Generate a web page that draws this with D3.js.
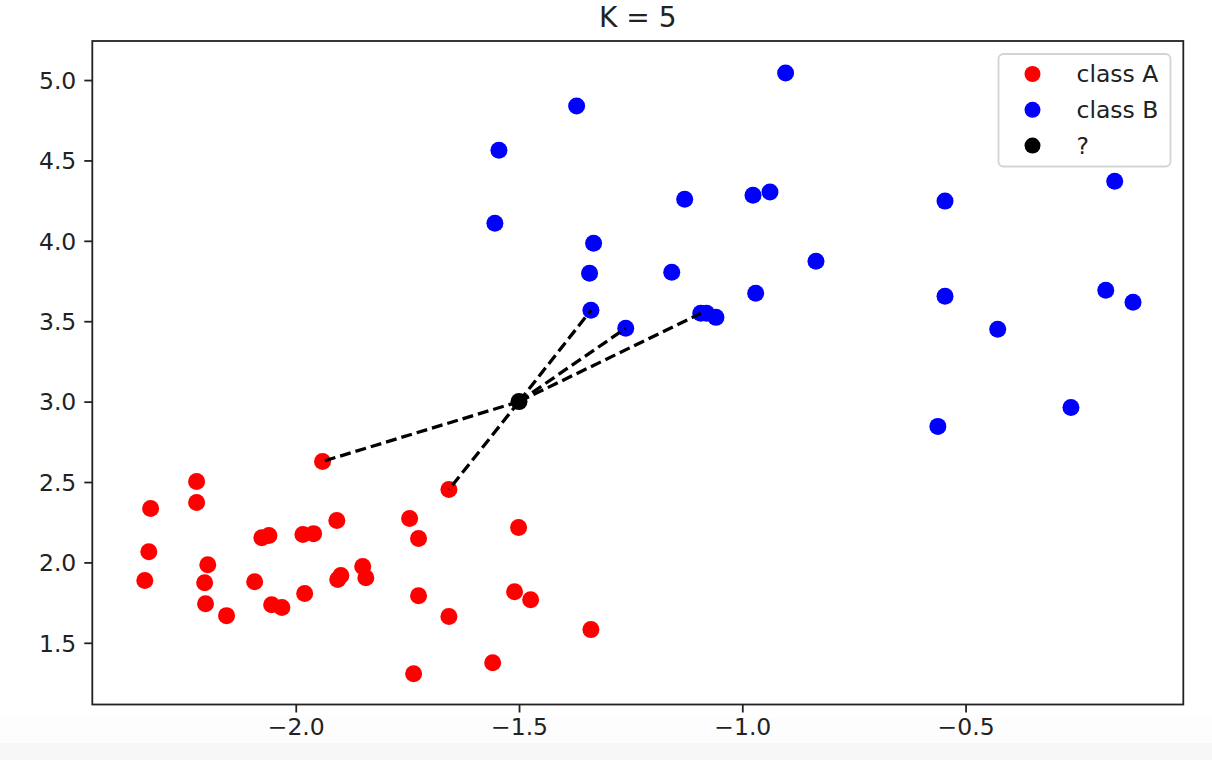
<!DOCTYPE html>
<html>
<head>
    <meta charset="utf-8">
    <script type="text/javascript" src="https://d3js.org/d3.v7.min.js"></script>
    <style>
    body {
        padding: 0;
        margin: 0;
        background: #fff;
    }
    svg text {
        font-family: "DejaVu Sans", sans-serif;
        fill: #222;
    }
    </style>
</head>
<body>
    <div id="viz"></div>
    <script type="text/javascript">

    // class A points (red)
    var classAx = [-2.338, -2.329, -2.325, -2.222, -2.222, -2.197, -2.204, -2.202, -2.155, -2.092,
                   -2.076, -2.060, -2.054, -2.031, -1.980, -1.984, -1.960, -1.908, -1.906, -1.899,
                   -1.850, -1.843, -1.940, -1.745, -1.725, -1.725, -1.736, -1.657, -1.657, -1.559,
                   -1.501, -1.510, -1.474, -1.339];
    var classAy = [1.887, 2.067, 2.335, 2.503, 2.372, 1.986, 1.874, 1.743, 1.669, 1.880,
                   2.154, 2.167, 1.737, 1.719, 1.806, 2.173, 2.179, 2.260, 1.893, 1.918,
                   1.974, 1.905, 2.628, 2.273, 2.148, 1.793, 1.308, 2.453, 1.663, 1.376,
                   2.217, 1.818, 1.768, 1.582];

    // class B points (blue)
    var classBx = [-1.554, -1.545, -1.371, -0.903, -1.333, -1.342, -1.339, -1.261, -1.129, -1.158,
                   -0.976, -0.938, -0.970, -0.835, -1.093, -1.080, -1.059, -0.546, -0.546, -0.562,
                   -0.428, -0.264, -0.186, -0.166, -0.125];
    var classBy = [4.110, 4.564, 4.838, 5.044, 3.985, 3.798, 3.568, 3.456, 4.259, 3.804,
                   4.284, 4.303, 3.674, 3.873, 3.549, 3.549, 3.524, 4.247, 3.655, 2.846,
                   3.450, 2.964, 3.692, 4.371, 3.618];

    // the unknown point and its 5 nearest neighbours
    var queryPoint = [-1.5, 3.0];
    var neighbourX = [-1.940, -1.657, -1.339, -1.261, -1.093];
    var neighbourY = [2.628, 2.453, 3.568, 3.456, 3.549];

    var xTicks = [-2.0, -1.5, -1.0, -0.5];
    var yTicks = [1.5, 2.0, 2.5, 3.0, 3.5, 4.0, 4.5, 5.0];
    var legendLabels = ['class A', 'class B', '?'];
    var legendColors = ['#ff0000', '#0000ff', '#000000'];

    var W = 1212, H = 760;
    var plotL = 92.3, plotR = 1183.3, plotT = 41, plotB = 704.5;

    var svg = d3.select('#viz')
      .append('svg')
      .attr('width', W)
      .attr('height', H);

    // faint grey strip at the very bottom of the screenshot
    svg.append('rect').attr('x', 0).attr('y', 718).attr('width', W).attr('height', 25).attr('fill', '#fdfdfd');
    svg.append('rect').attr('x', 0).attr('y', 743).attr('width', W).attr('height', 17).attr('fill', '#f7f7f7');

    var x = d3.scaleLinear().domain([-2.4556, -0.0124]).range([plotL, plotR]);
    var y = d3.scaleLinear().domain([1.1163, 5.2428]).range([plotB, plotT]);

    function fmt(v) { return d3.format('.1f')(v).replace('-', '\u2212'); }

    var xAxis = svg.append('g')
      .attr('transform', 'translate(0,' + plotB + ')')
      .call(d3.axisBottom(x).tickValues(xTicks).tickFormat(fmt).tickSizeOuter(0).tickSizeInner(8).tickPadding(6));
    var yAxis = svg.append('g')
      .attr('transform', 'translate(' + plotL + ',0)')
      .call(d3.axisLeft(y).tickValues(yTicks).tickFormat(fmt).tickSizeOuter(0).tickSizeInner(8).tickPadding(8));

    [xAxis, yAxis].forEach(function(g) {
      g.select('.domain').remove();
      g.selectAll('.tick line').attr('stroke', '#222').attr('stroke-width', 1.8);
      g.selectAll('.tick text').attr('font-size', 23.5).attr('fill', '#222')
        .style('font-family', '"DejaVu Sans", sans-serif');
    });
    yAxis.selectAll('.tick text').attr('dy', '0.35em');

    function pts(xs, ys) { return xs.map(function(v, i) { return {x: v, y: ys[i]}; }); }

    svg.append('g').selectAll('circle').data(pts(classAx, classAy))
      .enter().append('circle')
      .attr('cx', function(d) { return x(d.x); })
      .attr('cy', function(d) { return y(d.y); })
      .attr('r', 8.5)
      .attr('fill', '#ff0000');

    svg.append('g').selectAll('circle').data(pts(classBx, classBy))
      .enter().append('circle')
      .attr('cx', function(d) { return x(d.x); })
      .attr('cy', function(d) { return y(d.y); })
      .attr('r', 8.5)
      .attr('fill', '#0000ff');

    svg.append('circle')
      .attr('cx', x(queryPoint[0]))
      .attr('cy', y(queryPoint[1]))
      .attr('r', 8.5)
      .attr('fill', '#000');

    // dashed links to the neighbours
    svg.append('g').selectAll('line').data(pts(neighbourX, neighbourY))
      .enter().append('line')
      .attr('x1', x(queryPoint[0]))
      .attr('y1', y(queryPoint[1]))
      .attr('x2', function(d) { return x(d.x); })
      .attr('y2', function(d) { return y(d.y); })
      .attr('stroke', '#000')
      .attr('stroke-width', 3.3)
      .attr('stroke-dasharray', '11,5');

    // frame
    svg.append('rect')
      .attr('x', plotL).attr('y', plotT)
      .attr('width', plotR - plotL).attr('height', plotB - plotT)
      .attr('fill', 'none').attr('stroke', '#222').attr('stroke-width', 1.8);

    svg.append('text')
      .attr('x', (plotL + plotR) / 2)
      .attr('y', 27)
      .attr('text-anchor', 'middle')
      .attr('font-size', 28)
      .text('K = 5');

    // legend
    var lg = svg.append('g');
    lg.append('rect')
      .attr('x', 998.5).attr('y', 54)
      .attr('width', 172).attr('height', 112.5)
      .attr('rx', 5).attr('ry', 5)
      .attr('fill', '#fff').attr('fill-opacity', 0.8)
      .attr('stroke', '#d4d4d4').attr('stroke-width', 1.8);

    legendLabels.forEach(function(lab, i) {
      var cy = 74 + i * 35.8;
      lg.append('circle').attr('cx', 1032.5).attr('cy', cy).attr('r', 8).attr('fill', legendColors[i]);
      lg.append('text').attr('x', 1076.5).attr('y', cy).attr('dy', '0.35em')
        .attr('font-size', 23.5).text(lab);
    });
    </script>
</body>
</html>
